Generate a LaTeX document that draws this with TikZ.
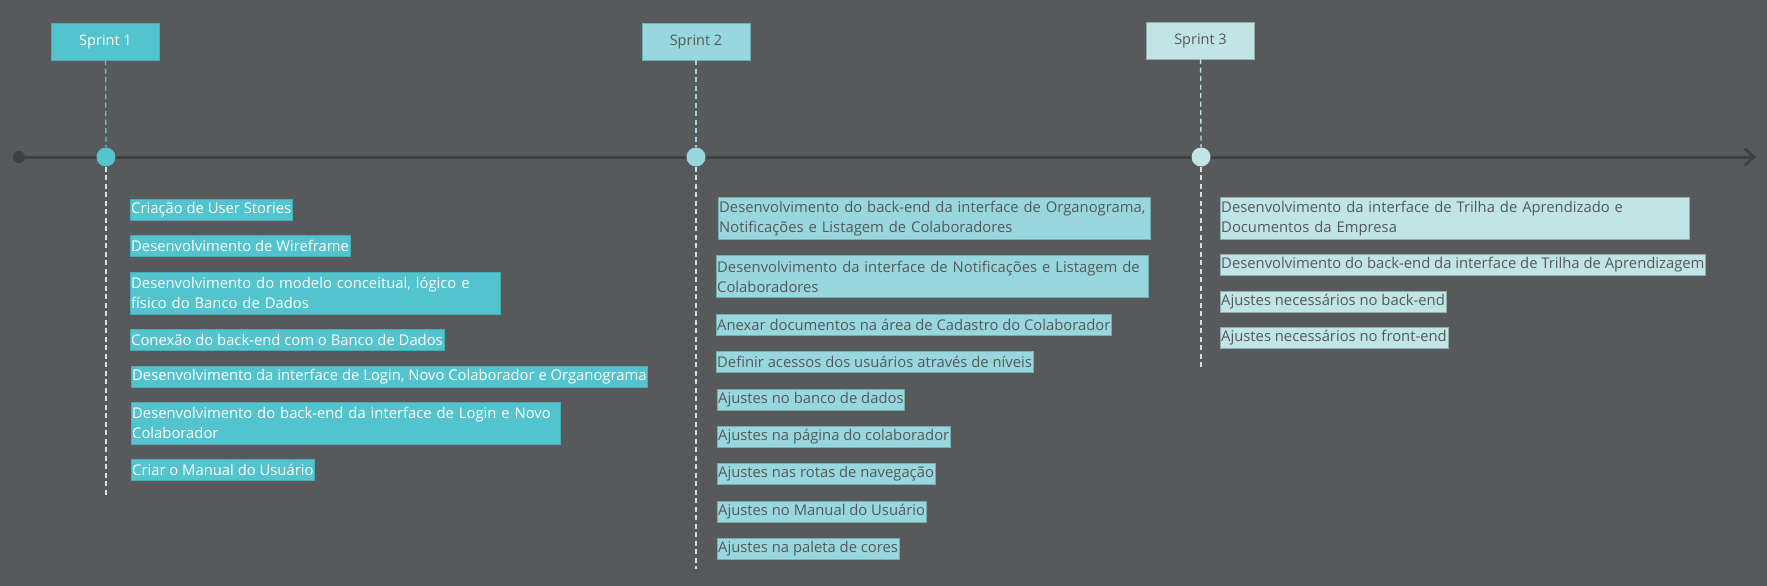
\documentclass[tikz,border=0pt]{standalone}
\usepackage{fontspec}
\setmainfont{Open Sans}
\usetikzlibrary{positioning,arrows.meta}

\definecolor{bggray}{HTML}{58595B}
\definecolor{axisgray}{HTML}{3F4042}
\definecolor{sprintA}{HTML}{53C3CD}
\definecolor{sprintAline}{HTML}{45AEB8}
\definecolor{sprintB}{HTML}{98D7DD}
\definecolor{sprintBline}{HTML}{70AFB4}
\definecolor{sprintC}{HTML}{C1E4E6}
\definecolor{sprintCline}{HTML}{8EAEB0}
\definecolor{darktext}{HTML}{55585A}
\definecolor{droplight}{HTML}{DCDCDC}

\tikzset{
	sprintbox/.style={draw=#1line, fill=#1, minimum width=108pt, minimum height=37pt, inner sep=0pt, font=\fontsize{14.5}{17}\selectfont},
	taskbox/.style={draw=#1line, fill=#1, anchor=north west, align=left, inner xsep=1pt, inner ysep=0pt, minimum height=21pt, font=\fontsize{14.8}{20}\selectfont},
	taskA/.style={taskbox=sprintA, text=white},
	taskB/.style={taskbox=sprintB, text=darktext},
	taskC/.style={taskbox=sprintC, text=darktext},
	marker/.style={circle, fill=#1, inner sep=0pt, minimum size=19pt},
	dropline/.style={dash pattern=on 5pt off 3.5pt, line width=1.3pt, draw=#1},
}

\begin{document}
\begin{tikzpicture}[x=1pt, y=-1pt]
	\fill[bggray] (0,0) rectangle (1767,586);
	\useasboundingbox (0,0) rectangle (1767,586);

	% time axis
	\node [circle, fill=axisgray, inner sep=0pt, minimum size=12pt] (origin) at (19,157) {};
	\coordinate (tend) at (1756,157);
	\draw [axisgray, line width=3pt, -{Straight Barb[length=9pt,width=17pt]}] (origin) -- (tend);

	% sprints
	\node [sprintbox=sprintA, text=white] (s1) at (105.5,41.5) {Sprint 1};
	\node [sprintbox=sprintB, text=darktext] (s2) at (696,41.5) {Sprint 2};
	\node [sprintbox=sprintC, text=darktext] (s3) at (1200.5,40.5) {Sprint 3};

	\node [marker=sprintA] (m1) at (106,157) {};
	\node [marker=sprintB] (m2) at (696,157) {};
	\node [marker=sprintC] (m3) at (1201,157) {};

	\coordinate (e1) at (106,496);
	\coordinate (e2) at (696,569);
	\coordinate (e3) at (1201,368);

	\draw [dropline=sprintA] (s1) -- (m1);
	\draw [dropline=droplight] (m1) -- (e1);
	\draw [dropline=sprintB] (s2) -- (m2);
	\draw [dropline=droplight] (m2) -- (e2);
	\draw [dropline=sprintC] (s3) -- (m3);
	\draw [dropline=droplight] (m3) -- (e3);

	% sprint 1
	\node [taskA] (t11) at (130,199) {Criação de User Stories};
	\node [taskA, below=15pt of t11.south west, anchor=north west] (t12) {Desenvolvimento de Wireframe};
	\node [taskA, below=15pt of t12.south west, anchor=north west, text width=368pt, minimum height=42pt] (t13) {Desenvolvimento do modelo conceitual, lógico e\\físico do Banco de Dados};
	\node [taskA, below=15pt of t13.south west, anchor=north west] (t14) {Conexão do back-end com o Banco de Dados};
	\node [taskA, below=15pt of t14.south west, anchor=north west, xshift=1pt] (t15) {Desenvolvimento da interface de Login, Novo Colaborador e Organograma};
	\node [taskA, below=15pt of t15.south west, anchor=north west, text width=427pt, minimum height=42pt] (t16) {Desenvolvimento do back-end da interface de Login e Novo\\Colaborador};
	\node [taskA, below=15pt of t16.south west, anchor=north west] (t17) {Criar o Manual do Usuário};

	% sprint 2
	\node [taskB, text width=430pt, minimum height=42pt] (t21) at (718,197) {Desenvolvimento do back-end da interface de Organograma,\\Notificações e Listagem de Colaboradores};
	\node [taskB, below=16pt of t21.south west, anchor=north west, xshift=-2pt, text width=430pt, minimum height=42pt] (t22) {Desenvolvimento da interface de Notificações e Listagem de\\Colaboradores};
	\node [taskB, below=16pt of t22.south west, anchor=north west] (t23) {Anexar documentos na área de Cadastro do Colaborador};
	\node [taskB, below=16pt of t23.south west, anchor=north west] (t24) {Definir acessos dos usuários através de níveis};
	\node [taskB, below=16pt of t24.south west, anchor=north west, xshift=1pt] (t25) {Ajustes no banco de dados};
	\node [taskB, below=16pt of t25.south west, anchor=north west] (t26) {Ajustes na página do colaborador};
	\node [taskB, below=16pt of t26.south west, anchor=north west] (t27) {Ajustes nas rotas de navegação};
	\node [taskB, below=16pt of t27.south west, anchor=north west] (t28) {Ajustes no Manual do Usuário};
	\node [taskB, below=16pt of t28.south west, anchor=north west] (t29) {Ajustes na paleta de cores};

	% sprint 3
	\node [taskC, text width=467pt, minimum height=42pt] (t31) at (1220,197) {Desenvolvimento da interface de Trilha de Aprendizado e\\Documentos da Empresa};
	\node [taskC, below=15pt of t31.south west, anchor=north west] (t32) {Desenvolvimento do back-end da interface de Trilha de Aprendizagem};
	\node [taskC, below=15pt of t32.south west, anchor=north west] (t33) {Ajustes necessários no back-end};
	\node [taskC, below=15pt of t33.south west, anchor=north west] (t34) {Ajustes necessários no front-end};
\end{tikzpicture}
\end{document}
